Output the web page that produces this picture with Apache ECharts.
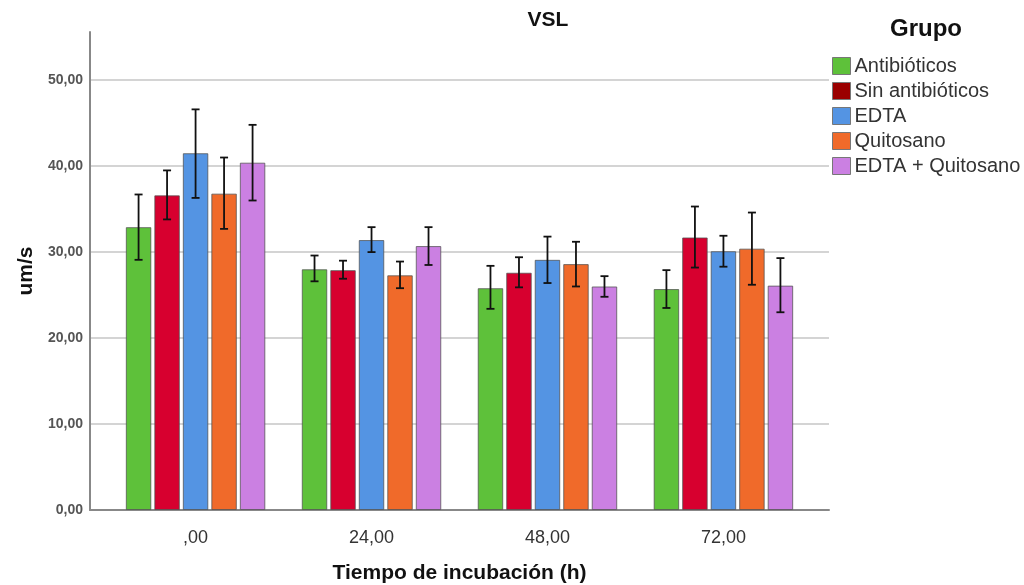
<!DOCTYPE html>
<html>
<head>
<meta charset="utf-8">
<script src="https://cdn.jsdelivr.net/npm/echarts@6/dist/echarts.min.js"></script>
<style>html,body{margin:0;padding:0;background:#fff}#c{width:1024px;height:585px}</style>
</head>
<body>
<div id="c"></div>
<script>
var categories = [',00', '24,00', '48,00', '72,00'];
var groups = ['Antibióticos', 'Sin antibióticos', 'EDTA', 'Quitosano', 'EDTA + Quitosano'];
var means = [
  [32.9, 28.0, 25.8, 25.7],
  [36.6, 27.9, 27.6, 31.7],
  [41.5, 31.4, 29.1, 30.1],
  [36.8, 27.3, 28.6, 30.4],
  [40.4, 30.7, 26.0, 26.1]
];
var lower = [
  [29.1, 26.6, 23.4, 23.5],
  [33.8, 26.9, 25.9, 28.2],
  [36.3, 30.0, 26.4, 28.3],
  [32.7, 25.8, 26.0, 26.2],
  [36.0, 28.5, 24.8, 23.0]
];
var upper = [
  [36.7, 29.6, 28.4, 27.9],
  [39.5, 29.0, 29.4, 35.3],
  [46.6, 32.9, 31.8, 31.9],
  [41.0, 28.9, 31.2, 34.6],
  [44.8, 32.9, 27.2, 29.3]
];
var barColors = ['#5ec13a', '#d7002f', '#5494e3', '#f06a2a', '#cb80e2'];
var legendColors = ['#5ec13a', '#9b0000', '#5494e3', '#f06a2a', '#cb80e2'];
var yTicks = [0, 10, 20, 30, 40, 50];

var BAR_W = 25.5, GAP = 3;
var PITCH = BAR_W + GAP;

var series = [];
groups.forEach(function (g, k) {
  series.push({
    name: g, type: 'bar', barWidth: BAR_W, barGap: (GAP / BAR_W * 100) + '%',
    itemStyle: { color: barColors[k], borderColor: 'rgba(80,80,80,0.75)', borderWidth: 1 },
    data: means[k].map(function (v, i) { return [i, v]; }),
    z: 2
  });
});
groups.forEach(function (g, k) {
  series.push({
    name: 'err' + k, type: 'custom',
    encode: { x: 0, y: [1, 2] },
    data: lower[k].map(function (v, i) { return [i, v, upper[k][i]]; }),
    z: 5,
    renderItem: function (params, api) {
      var off = (k - 2) * PITCH;
      var lo = api.coord([api.value(0), api.value(1)]);
      var hi = api.coord([api.value(0), api.value(2)]);
      var x = lo[0] + off, cw = 4;
      var st = { stroke: '#111', lineWidth: 1.8 };
      return { type: 'group', children: [
        { type: 'line', shape: { x1: x, y1: lo[1], x2: x, y2: hi[1] }, style: st },
        { type: 'line', shape: { x1: x - cw, y1: lo[1], x2: x + cw, y2: lo[1] }, style: st },
        { type: 'line', shape: { x1: x - cw, y1: hi[1], x2: x + cw, y2: hi[1] }, style: st }
      ]};
    }
  });
});

var chart = echarts.init(document.getElementById('c'));
chart.setOption({
  animation: false,
  backgroundColor: '#fff',
  title: [
    { text: 'VSL', left: 543, top: 5, textAlign: 'center',
      textStyle: { fontFamily: 'Liberation Sans', fontSize: 21, fontWeight: 'bold', color: '#111' } },
    { text: 'Grupo', left: 921, top: 12, textAlign: 'center',
      textStyle: { fontFamily: 'Liberation Sans', fontSize: 24, fontWeight: 'bold', color: '#111' } }
  ],
  legend: {
    orient: 'vertical', left: 827, top: 51, itemWidth: 18, itemHeight: 17, itemGap: 5,
    icon: 'rect',
    textStyle: { fontFamily: 'Liberation Sans', fontSize: 20, color: '#333', padding: [0, 0, 0, -1] },
    data: groups.map(function (g, k) {
      return { name: g, itemStyle: { color: legendColors[k], borderColor: '#777', borderWidth: 1 } };
    })
  },
  grid: { left: 90, right: 195, top: 32, bottom: 75, outerBoundsMode: 'none', containLabel: false },
  xAxis: {
    type: 'value', min: -0.6, max: 3.6, interval: 0.2,
    name: 'Tiempo de incubación (h)', nameLocation: 'middle', nameGap: 53,
    nameTextStyle: { fontFamily: 'Liberation Sans', fontSize: 21, fontWeight: 'bold', color: '#111' },
    axisLine: { onZero: false, lineStyle: { color: '#888', width: 2 } },
    axisTick: { show: false },
    splitLine: { show: false },
    axisLabel: {
      margin: 19, fontFamily: 'Liberation Sans', fontSize: 18, color: '#333',
      showMinLabel: false, showMaxLabel: false,
      formatter: function (v) {
        var r = Math.round(v);
        return (Math.abs(v - r) < 1e-6 && r >= 0 && r < categories.length) ? categories[r] : '';
      }
    }
  },
  yAxis: {
    type: 'value', min: 0, max: 55.6, interval: 10,
    name: 'um/s', nameLocation: 'middle', nameGap: 50, nameRotate: 90,
    nameTextStyle: { fontFamily: 'Liberation Sans', fontSize: 21, fontWeight: 'bold', color: '#111' },
    axisLine: { show: true, onZero: false, lineStyle: { color: '#888', width: 2 } },
    axisTick: { show: false },
    splitLine: { show: true, showMinLine: false, showMaxLine: false, lineStyle: { color: '#d4d4d4', width: 2 } },
    axisLabel: {
      margin: 7, fontFamily: 'Liberation Sans', fontSize: 14, fontWeight: 'bold', color: '#555',
      showMaxLabel: false,
      formatter: function (v) {
        if (yTicks.indexOf(v) < 0) return '';
        return v.toFixed(2).replace('.', ',');
      }
    }
  },
  series: series
});
</script>
</body>
</html>
